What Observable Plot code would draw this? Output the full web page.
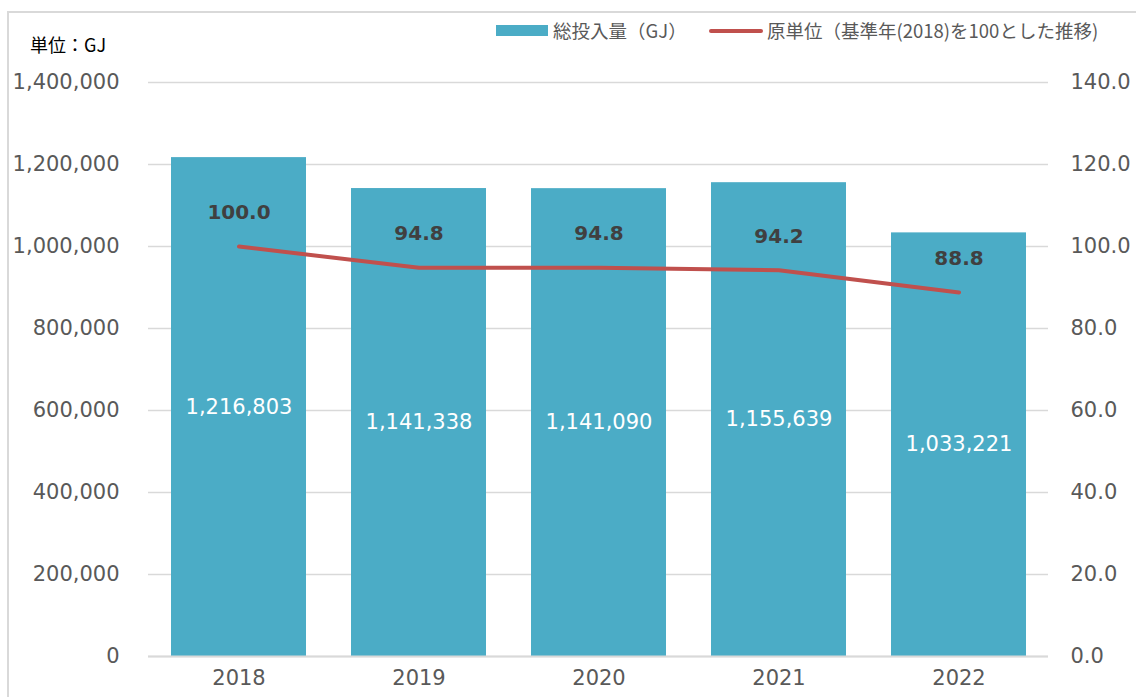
<!DOCTYPE html>
<html><head><meta charset="utf-8">
<script src="https://cdn.jsdelivr.net/npm/d3@7"></script>
<script src="https://cdn.jsdelivr.net/npm/@observablehq/plot@0.6"></script>
<style>
html,body{margin:0;padding:0;background:#fff;overflow:hidden;}
#wrap{position:relative;width:1136px;height:697px;}
#frame{position:absolute;left:7px;top:11px;width:2000px;height:2000px;border-left:2px solid #d9d9d9;border-top:2px solid #d9d9d9;}
#chart{position:absolute;left:0;top:0;}
.lbl{position:absolute;font-family:"Noto Sans CJK JP","Noto Sans",sans-serif;white-space:nowrap;line-height:1;}
#unit{left:30px;top:35px;font-size:18px;color:#000;}
#leg1sw{position:absolute;left:496px;top:25px;width:52px;height:11px;background:#4BACC6;}
#leg1{left:553px;top:21px;font-size:18.5px;color:#595959;}
#leg2sw{position:absolute;left:709px;top:29px;width:54px;height:4px;background:#C0504D;border-radius:2px;}
#leg2{left:767px;top:21px;font-size:18.5px;color:#595959;}
</style></head>
<body>
<div id="wrap">
<div id="frame"></div>
<div id="chart"></div>
<div class="lbl" id="unit">単位：GJ</div>
<div id="leg1sw"></div><div class="lbl" id="leg1">総投入量（GJ）</div>
<div id="leg2sw"></div><div class="lbl" id="leg2">原単位（基準年(2018)を100とした推移)</div>
</div>
<script>
const years = ["2018", "2019", "2020", "2021", "2022"];
const totalInput = [1216803, 1141338, 1141090, 1155639, 1033221];
const intensity = [100.0, 94.8, 94.8, 94.2, 88.8];
const leftTicks = [0, 200000, 400000, 600000, 800000, 1000000, 1200000, 1400000];
const rightTicks = [0, 20, 40, 60, 80, 100, 120, 140];

const k = 10000; // right axis (0-140) mapped onto left (0-1,400,000)
const data = years.map((y, i) => ({year: y, total: totalInput[i], idx: intensity[i]}));

const chart = Plot.plot({
  width: 1136,
  height: 697,
  marginTop: 82,
  marginBottom: 41,
  marginLeft: 148,
  marginRight: 88,
  style: {fontFamily: "'DejaVu Sans', Verdana, sans-serif", fontSize: "20px", color: "#595959", background: "transparent"},
  x: {domain: years, paddingInner: 0.25, paddingOuter: 0.125, label: null},
  y: {domain: [0, 1400000], label: null},
  marks: [
    Plot.ruleY(leftTicks, {stroke: "#d9d9d9", strokeWidth: 1.5}),
    Plot.barY(data, {x: "year", y: "total", fill: "#4BACC6"}),
    Plot.ruleY([0], {stroke: "#d9d9d9", strokeWidth: 2}),
    Plot.line(data, {x: "year", y: d => d.idx * k, stroke: "#C0504D", strokeWidth: 4, strokeLinecap: "round", strokeLinejoin: "round"}),
    Plot.text(data, {x: "year", y: d => d.total / 2, text: d => d3.format(",")(d.total), fill: "white", fontSize: 21}),
    Plot.text(data, {x: "year", y: d => d.idx * k, dy: -34, text: d => d.idx.toFixed(1), fill: "#404040", fontSize: 20, fontWeight: "bold"}),
    Plot.axisY(leftTicks, {anchor: "left", tickSize: 0, tickPadding: 29, tickFormat: d => d3.format(",")(d), label: null, fontSize: 21}),
    Plot.axisY(rightTicks.map(t => t * k), {anchor: "right", tickSize: 0, tickPadding: 22, tickFormat: d => (d / k).toFixed(1), label: null, fontSize: 21}),
    Plot.axisX({tickSize: 0, tickPadding: 14, label: null, fontSize: 21})
  ]
});
document.getElementById("chart").appendChild(chart);
</script>
</body></html>
